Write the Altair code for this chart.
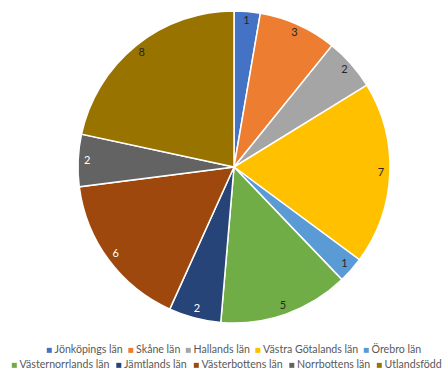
import altair as alt
import pandas as pd

categories = ["Jönköpings län", "Skåne län", "Hallands län", "Västra Götalands län", "Örebro län",
              "Västernorrlands län", "Jämtlands län", "Västerbottens län", "Norrbottens län", "Utlandsfödd"]
values = [1, 3, 2, 7, 1, 5, 2, 6, 2, 8]
colors = ["#4472C4", "#ED7D31", "#A5A5A5", "#FFC000", "#5B9BD5",
          "#70AD47", "#264478", "#9E480E", "#636363", "#997300"]
label_colors = ["#262626", "#262626", "#262626", "#262626", "#262626",
                "#262626", "#FFFFFF", "#FFFFFF", "#FFFFFF", "#262626"]

df = pd.DataFrame({
    "cat": categories,
    "value": values,
    "order": list(range(len(categories))),
    "lcolor": label_colors,
})

FONT = "Lato"
CX, CY, R = 234, 167, 156

base = alt.Chart(df).transform_window(
    cum="sum(value)", sort=[alt.SortField("order")], frame=[None, 0]
).transform_joinaggregate(total="sum(value)").transform_calculate(
    t0="(datum.cum - datum.value) / datum.total",
    t1="datum.cum / datum.total",
    tm="(datum.cum - datum.value / 2) / datum.total",
)

theta_scale = alt.Scale(domain=[0, 1])

pie = base.mark_arc(x=CX, y=CY, outerRadius=R, stroke="white", strokeWidth=1.5).encode(
    theta=alt.Theta("t0:Q", scale=theta_scale),
    theta2="t1:Q",
    color=alt.Color("cat:N", scale=alt.Scale(domain=categories, range=colors), legend=None),
)

labels = base.mark_text(x=CX, y=CY, radius=147, font=FONT, fontSize=11).encode(
    theta=alt.Theta("tm:Q", scale=theta_scale),
    text="value:Q",
    color=alt.Color("lcolor:N", scale=None),
)

def legend_layer(cats, cols, lx, ly, pad):
    return base.transform_filter(
        alt.FieldOneOfPredicate(field="cat", oneOf=cats)
    ).mark_arc(x=CX, y=CY, outerRadius=R, stroke="white", strokeWidth=1.5).encode(
        theta=alt.Theta("t0:Q", scale=theta_scale),
        theta2="t1:Q",
        color=alt.Color("cat:N", scale=alt.Scale(domain=cats, range=cols),
                        legend=alt.Legend(title=None, orient="none", legendX=lx, legendY=ly,
                                          direction="horizontal", symbolType="square",
                                          symbolSize=25, symbolStrokeWidth=0,
                                          labelFont=FONT, labelFontSize=10.6, labelColor="#595959",
                                          labelOffset=0, columnPadding=pad, padding=0)),
    )

leg1 = legend_layer(categories[:5], colors[:5], 44, 345, 2.5)
leg2 = legend_layer(categories[5:], colors[5:], 9, 360, 3.5)

chart = alt.layer(pie, leg1, leg2, labels).resolve_scale(color="independent").properties(
    width=443, height=370, autosize=alt.AutoSizeParams(type="none"), padding=0
).configure_view(stroke=None).configure(background="white")

chart.save("out.html", embed_options={"renderer": "svg", "actions": False})
